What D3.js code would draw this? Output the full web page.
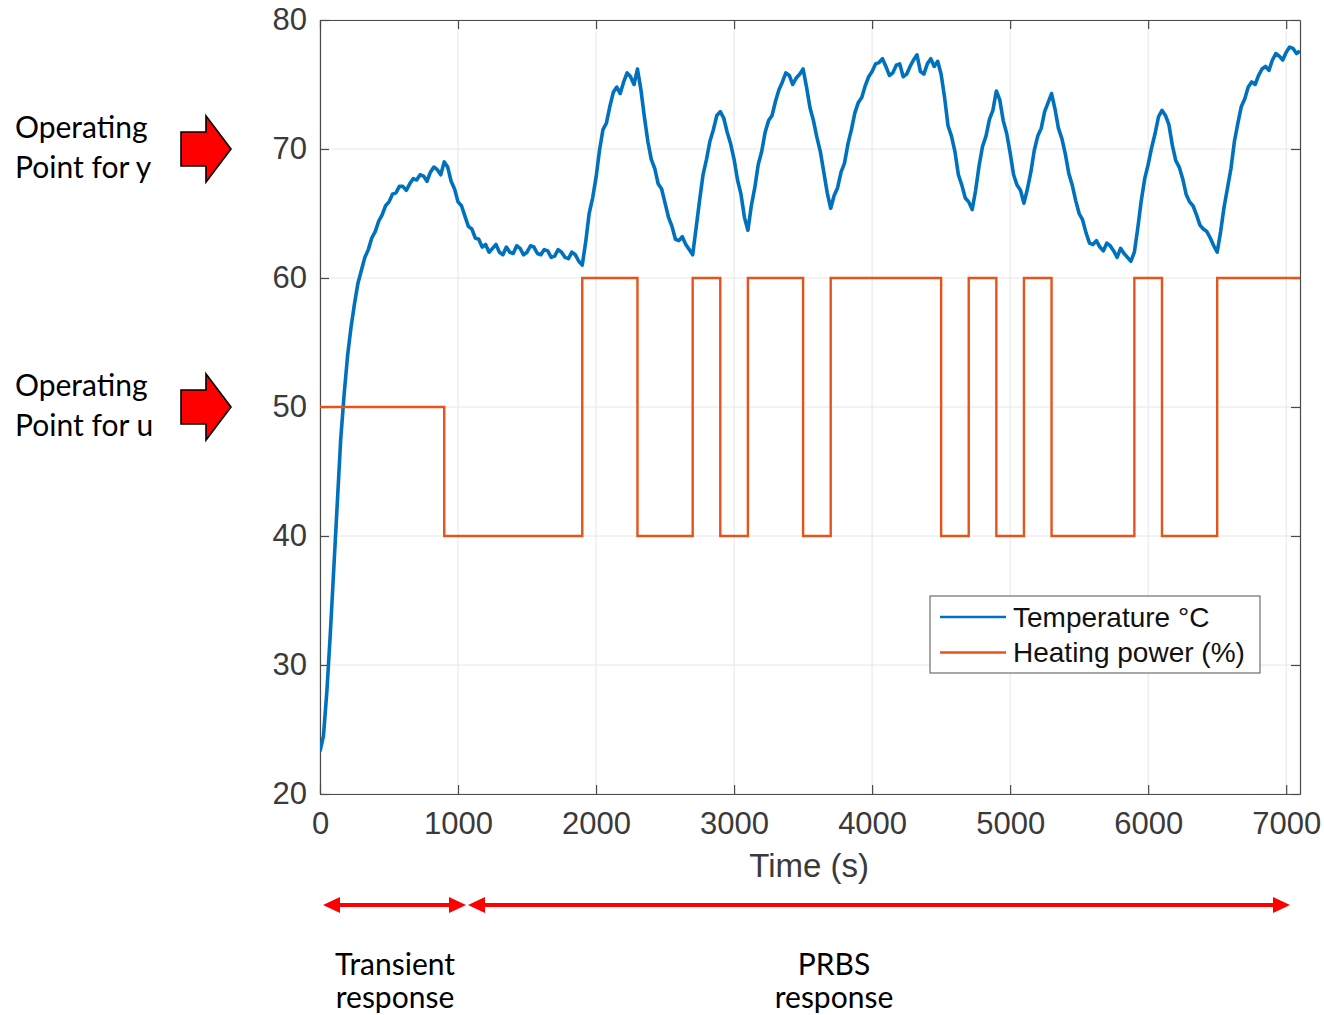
<!DOCTYPE html>
<html><head><meta charset="utf-8">
<script src="https://cdn.jsdelivr.net/npm/d3@7"></script>
<style>
html,body{margin:0;padding:0;background:#fff;}
svg{display:block;}
</style></head>
<body>
<script>
// ---- data ----
// temperature readings [time s, °C]
const temperature = [[0,23.3],[25,24.5],[50,28],[75,32.5],[100,37.5],[125,42.5],[150,47.5],[175,51],
[200,54],[225,56.2],[250,58],[275,59.6],[300,60.6],[325,61.6],[350,62.2],[375,63.1],[400,63.6],[425,64.4],[450,64.9],[475,65.6],[500,65.9],[525,66.5],[550,66.6],[575,67.1],[600,67.1],[625,66.8],[650,67.3],[675,67.7],[700,67.6],[725,68.0],[750,67.9],[775,67.5],[800,68.2],[825,68.6],[850,68.4],[875,68.0],[900,69.0],[925,68.6],[950,67.5],[975,66.9],
[1000,65.9],[1025,65.6],[1050,64.8],[1075,64.0],[1100,63.8],[1125,63.1],[1150,63.0],[1175,62.4],[1200,62.6],[1225,62.0],[1250,62.3],[1275,62.6],[1300,62.0],[1325,61.8],[1350,62.4],[1375,62.0],[1400,61.9],[1425,62.5],[1450,62.3],[1475,61.8],[1500,62.0],[1525,62.5],[1550,62.4],[1575,61.9],[1600,61.8],[1625,62.2],[1650,62.1],[1675,61.6],[1700,61.7],[1725,62.2],[1750,62.0],[1775,61.6],[1800,61.5],[1825,62.0],[1850,61.8],[1875,61.3],[1900,61.0],[1925,62.8],[1950,65.0],[1975,66.2],
[2000,67.8],[2025,69.9],[2050,71.5],[2075,72.0],[2100,73.3],[2125,74.4],[2150,74.8],[2175,74.3],[2200,75.2],[2225,75.9],[2250,75.6],[2275,75.0],[2300,76.2],[2325,74.6],[2350,72.5],[2375,70.6],[2400,69.2],[2425,68.5],[2450,67.3],[2475,66.9],[2500,65.8],[2525,64.7],[2550,64.0],[2575,63.0],[2600,62.9],[2625,63.2],[2650,62.6],[2675,62.2],[2700,61.8],[2725,63.9],[2750,66.0],[2775,68.0],[2800,69.2],[2825,70.6],[2850,71.5],[2875,72.6],[2900,72.9],[2925,72.4],[2950,71.3],[2975,70.4],
[3000,69.2],[3025,67.6],[3050,66.5],[3075,64.7],[3100,63.7],[3125,65.6],[3150,67.0],[3175,68.8],[3200,69.8],[3225,71.3],[3250,72.2],[3275,72.6],[3300,73.7],[3325,74.6],[3350,75.2],[3375,75.9],[3400,75.7],[3425,75.0],[3450,75.5],[3475,75.8],[3500,76.2],[3525,74.8],[3550,73.2],[3575,72.2],[3600,70.9],[3625,69.8],[3650,68.2],[3675,66.6],[3700,65.4],[3725,66.4],[3750,67.0],[3775,68.2],[3800,68.9],[3825,70.4],[3850,71.5],[3875,72.8],[3900,73.6],[3925,74.0],[3950,74.9],[3975,75.6],
[4000,76.0],[4025,76.6],[4050,76.7],[4075,77.0],[4100,76.4],[4125,75.7],[4150,75.9],[4175,76.5],[4200,76.6],[4225,75.6],[4250,75.8],[4275,76.4],[4300,76.9],[4325,77.3],[4350,76.0],[4375,75.8],[4400,76.6],[4425,77.0],[4450,76.4],[4475,76.8],[4500,75.8],[4525,74.0],[4550,71.8],[4575,71.0],[4600,69.8],[4625,68.0],[4650,67.2],[4675,66.2],[4700,65.9],[4725,65.3],[4750,66.8],[4775,68.7],[4800,70.2],[4825,71.0],[4850,72.3],[4875,73.0],[4900,74.5],[4925,73.8],[4950,72.2],[4975,71.2],
[5000,69.7],[5025,68.0],[5050,67.2],[5075,66.8],[5100,65.8],[5125,66.9],[5150,68.2],[5175,69.9],[5200,71.0],[5225,71.6],[5250,72.9],[5275,73.6],[5300,74.3],[5325,73.1],[5350,71.6],[5375,70.8],[5400,69.6],[5425,68.1],[5450,67.2],[5475,66.0],[5500,65.0],[5525,64.5],[5550,63.5],[5575,62.7],[5600,62.6],[5625,62.9],[5650,62.4],[5675,62.1],[5700,62.7],[5725,62.5],[5750,62.1],[5775,61.6],[5800,62.3],[5825,61.9],[5850,61.6],[5875,61.3],[5900,62.0],[5925,63.9],[5950,66.0],[5975,67.7],
[6000,68.8],[6025,70.1],[6050,71.2],[6075,72.5],[6100,73.0],[6125,72.6],[6150,71.9],[6175,70.3],[6200,69.1],[6225,68.6],[6250,67.7],[6275,66.5],[6300,65.9],[6325,65.6],[6350,64.9],[6375,64.1],[6400,63.8],[6425,63.6],[6450,63.1],[6475,62.5],[6500,62.0],[6525,63.6],[6550,65.5],[6575,67.0],[6600,68.5],[6625,70.6],[6650,72.0],[6675,73.3],[6700,73.9],[6725,74.8],[6750,75.2],[6775,75.0],[6800,75.7],[6825,76.2],[6850,76.4],[6875,76.1],[6900,76.9],[6925,77.4],[6950,77.2],[6975,76.9],
[7000,77.5],[7025,77.9],[7050,77.8],[7075,77.4],[7100,77.6]];
const powerTime = [0,900,1900,2300,2700,2900,3100,3500,3700,4500,4700,4900,5100,5300,5900,6100,6500,7100];
const powerValue = [50,40,60,40,60,40,60,40,60,40,60,40,60,40,60,40,60,60];
const xTicks = [0,1000,2000,3000,4000,5000,6000,7000];
const yTicks = [20,30,40,50,60,70,80];
const seriesNames = ["Temperature °C","Heating power (%)"];
const seriesColors = ["#0072BD","#E5541B"];
const xLabel = "Time (s)";
const sideNotes = [{lines:["Operating","Point for y"], value:70},{lines:["Operating","Point for u"], value:50}];
const phases = [{lines:["Transient","response"], from:0, to:1000},{lines:["PRBS","response"], from:1000, to:7100}];

// ---- layout ----
const W=1324,H=1015;
const L=320,R=1300,T=20,B=794;
const svg=d3.select("body").append("svg").attr("width",W).attr("height",H);
const x=d3.scaleLinear().domain([0,7100]).range([L,R]);
const y=d3.scaleLinear().domain([20,80]).range([B,T]);
const axisFont="Liberation Sans, Arial, Helvetica, sans-serif";
const noteFont="Lato, 'Noto Sans', sans-serif";

// grid
const g=svg.append("g");
g.selectAll(".gx").data(xTicks).join("line").attr("x1",d=>x(d)).attr("x2",d=>x(d)).attr("y1",T).attr("y2",B).attr("stroke","#e6e6e6").attr("stroke-width",1);
g.selectAll(".gy").data(yTicks).join("line").attr("x1",L).attr("x2",R).attr("y1",d=>y(d)).attr("y2",d=>y(d)).attr("stroke","#e6e6e6").attr("stroke-width",1);

// axes with inward ticks
const tk=9;
const fmt=d3.format("d");
const axB=svg.append("g").attr("transform",`translate(0,${B})`).call(d3.axisBottom(x).tickValues(xTicks).tickFormat(fmt).tickSizeInner(-tk).tickSizeOuter(0).tickPadding(tk+9));
const axT=svg.append("g").attr("transform",`translate(0,${T})`).call(d3.axisTop(x).tickValues(xTicks).tickSizeInner(-tk).tickSizeOuter(0).tickFormat(""));
const axL=svg.append("g").attr("transform",`translate(${L},0)`).call(d3.axisLeft(y).tickValues(yTicks).tickFormat(fmt).tickSizeInner(-tk).tickSizeOuter(0).tickPadding(tk+4));
const axR=svg.append("g").attr("transform",`translate(${R},0)`).call(d3.axisRight(y).tickValues(yTicks).tickSizeInner(-tk).tickSizeOuter(0).tickFormat(""));
[axB,axT,axL,axR].forEach(a=>{
  a.select(".domain").attr("stroke","#4a4a4a").attr("stroke-width",1.2);
  a.selectAll(".tick line").attr("stroke","#4a4a4a").attr("stroke-width",1.2);
  a.selectAll("text").attr("font-family",axisFont).attr("font-size",31).attr("fill","#3a3a3a");
});
axB.selectAll("text").attr("dy","0.71em");

// x label
svg.append("text").attr("x",(x(0)+x(7000))/2+6).attr("y",877).attr("text-anchor","middle").attr("font-family",axisFont).attr("font-size",33).attr("fill","#3a3a3a").text(xLabel);

// lines
svg.append("clipPath").attr("id","c").append("rect").attr("x",L).attr("y",T-2).attr("width",R-L).attr("height",B-T+4);
const powData=powerTime.map((t,i)=>[t,powerValue[i]]);
svg.append("path").datum(temperature).attr("clip-path","url(#c)").attr("fill","none").attr("stroke",seriesColors[0]).attr("stroke-width",3.6).attr("stroke-linejoin","round")
  .attr("d",d3.line().x(d=>x(d[0])).y(d=>y(d[1])));
svg.append("path").datum(powData).attr("clip-path","url(#c)").attr("fill","none").attr("stroke",seriesColors[1]).attr("stroke-width",2.4)
  .attr("d",d3.line().curve(d3.curveStepAfter).x(d=>x(d[0])).y(d=>y(d[1])));

// legend
const lg=svg.append("g").attr("transform","translate(930,596)");
lg.append("rect").attr("width",330).attr("height",77).attr("fill","#fff").attr("stroke","#6e6e6e").attr("stroke-width",1.2);
seriesNames.forEach((n,i)=>{
  const yy=21+i*35.5;
  lg.append("line").attr("x1",10).attr("x2",76).attr("y1",yy).attr("y2",yy).attr("stroke",seriesColors[i]).attr("stroke-width",2.4);
  lg.append("text").attr("x",83).attr("y",yy).attr("dy","0.35em").attr("font-family",axisFont).attr("font-size",28).attr("fill","#111").text(n);
});

// side notes with block arrows
sideNotes.forEach(n=>{
  const cy=y(n.value);
  const t=svg.append("text").attr("font-family",noteFont).attr("font-size",30).attr("fill","#000");
  n.lines.forEach((s,i)=>t.append("tspan").attr("x",15).attr("y",cy-22+i*40).attr("dy","0.35em").text(s));
  const p=d3.path();
  p.moveTo(181,cy-17);p.lineTo(206,cy-17);p.lineTo(206,cy-33);p.lineTo(231,cy);p.lineTo(206,cy+33);p.lineTo(206,cy+17);p.lineTo(181,cy+17);p.closePath();
  svg.append("path").attr("d",p.toString()).attr("fill","#ff0000").attr("stroke","#000").attr("stroke-width",1.6).attr("stroke-linejoin","miter");
});

// phase double arrows
const ay=905;
phases.forEach((ph,i)=>{
  const x1=i===0?x(ph.from)+3:x(ph.from)+10, x2=i===0?x(ph.to)+8:x(ph.to)-10;
  svg.append("line").attr("x1",x1+10).attr("x2",x2-10).attr("y1",ay).attr("y2",ay).attr("stroke","#ff0000").attr("stroke-width",4);
  svg.append("path").attr("d",`M${x1},${ay}L${x1+17},${ay-8}L${x1+17},${ay+8}Z`).attr("fill","#ff0000");
  svg.append("path").attr("d",`M${x2},${ay}L${x2-17},${ay-8}L${x2-17},${ay+8}Z`).attr("fill","#ff0000");
  const cx=i===0?395:834;
  const t=svg.append("text").attr("font-family",noteFont).attr("font-size",30).attr("fill","#000").attr("text-anchor","middle");
  ph.lines.forEach((s,j)=>t.append("tspan").attr("x",cx).attr("y",964+j*33).attr("dy","0.35em").text(s));
});
</script>
</body></html>
